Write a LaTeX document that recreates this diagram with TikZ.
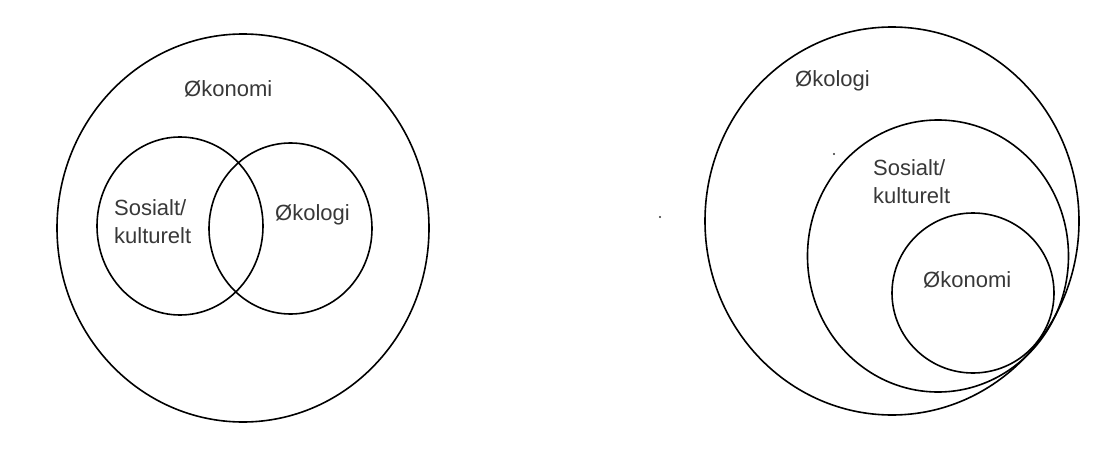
\documentclass[tikz,border=0pt]{standalone}
\usepackage{fontspec}
\setmainfont{Liberation Sans}
\begin{document}
\begin{tikzpicture}[x=1pt,y=-1pt,
  ring/.style={draw=black,line width=1.6pt},
  lbl/.style={inner sep=0pt,anchor=base west,align=left,text=black!78,
    font=\fontsize{22}{28}\selectfont},
  speck/.style={fill=black!80,draw=none}]
\useasboundingbox (0,0) rectangle (1112,463);
% left diagram
\draw[ring] (243,228) ellipse [x radius=186, y radius=194];
\draw[ring] (180,226) ellipse [x radius=83, y radius=89];
\draw[ring] (290.5,228.5) ellipse [x radius=81.5, y radius=85.5];
\node[lbl] (oekL) at (184,96) {Økonomi};
\node[lbl] (sosL) at (114,243) {Sosialt/\\kulturelt};
\node[lbl] (oklL) at (275,220) {Økologi};
% right diagram
\draw[ring] (892,221) ellipse [x radius=187, y radius=194];
\draw[ring] (938,256) ellipse [x radius=130.5, y radius=136];
\draw[ring] (973,293) ellipse [x radius=81, y radius=80];
\node[lbl] (oklR) at (795,86) {Økologi};
\node[lbl] (sosR) at (873,203) {Sosialt/\\kulturelt};
\node[lbl] (oekR) at (923,287) {Økonomi};
% specks
\fill[speck] (660,217) circle [radius=1.2];
\fill[speck] (834,154) circle [radius=1.2];
\end{tikzpicture}
\end{document}
